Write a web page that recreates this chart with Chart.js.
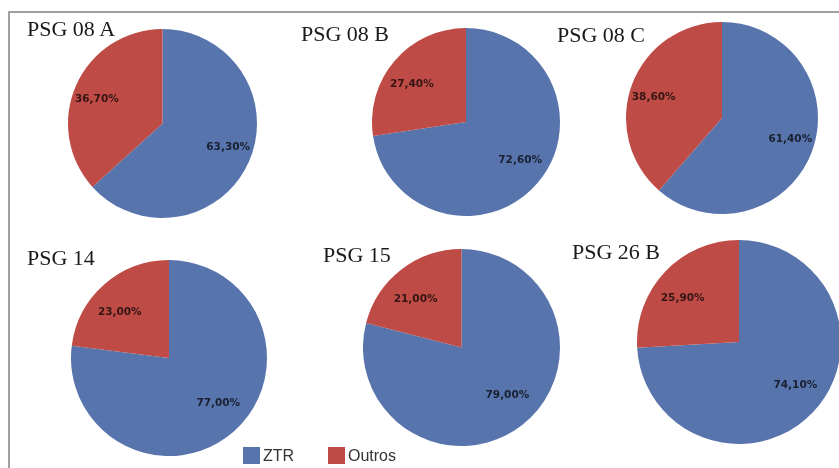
<!DOCTYPE html>
<html>
<head>
<meta charset="utf-8">
<script src="https://cdn.jsdelivr.net/npm/chart.js@4"></script>
<style>
  html, body { margin:0; padding:0; background:#fff; }
  #stage { position:relative; width:839px; height:468px; overflow:hidden; background:#fff; }
  .frame { position:absolute; left:8px; top:11px; width:900px; height:500px; border-top:2px solid #a0a0a0; border-left:2px solid #a0a0a0; box-sizing:border-box; }
  .pie { position:absolute; }
  .title { position:absolute; font-family:"Liberation Serif", "Times New Roman", serif; font-size:22px; line-height:22px; color:#1a1a1a; white-space:nowrap; }
  .legend { position:absolute; top:447px; font-family:"Liberation Sans", Arial, sans-serif; font-size:16px; line-height:17px; color:#333; white-space:nowrap; }
  .legend i { display:inline-block; width:17px; height:17px; vertical-align:top; margin-right:3px; }
</style>
</head>
<body>
<div id="stage">
  <div class="frame"></div>
</div>
<script>
// ── data ─────────────────────────────────────────
const panels = ['PSG 08 A', 'PSG 08 B', 'PSG 08 C', 'PSG 14', 'PSG 15', 'PSG 26 B'];
const seriesNames = ['ZTR', 'Outros'];
const ztr = [63.3, 72.6, 61.4, 77.0, 79.0, 74.1];
const outros = [36.7, 27.4, 38.6, 23.0, 21.0, 25.9];

const colors = ['#5874ad', '#be4b45'];

// layout: pie box (left, top, size) and title position (left, top)
const layout = [
  { left: 68,    top: 29,  size: 189, tx: 27,  ty: 17.6 },
  { left: 372,   top: 28,  size: 188, tx: 301, ty: 22.6 },
  { left: 625.5, top: 22,  size: 192, tx: 557, ty: 23.6 },
  { left: 71,    top: 260, size: 196, tx: 27,  ty: 247 },
  { left: 363,   top: 249, size: 197, tx: 323, ty: 243.6 },
  { left: 637,   top: 240, size: 204, tx: 572, ty: 240.6 }
];

const fmtPct = v => v.toFixed(2).replace('.', ',') + '%';

// labels inside slices, placed along the mid angle
const sliceLabels = {
  id: 'sliceLabels',
  afterDatasetsDraw(chart) {
    const ctx = chart.ctx;
    const values = chart.data.datasets[0].data;
    ctx.save();
    ctx.font = 'bold 10.5px "DejaVu Sans", sans-serif';
    ctx.fillStyle = 'rgba(0,0,0,0.72)';
    ctx.textAlign = 'center';
    ctx.textBaseline = 'middle';
    chart.getDatasetMeta(0).data.forEach((arc, i) => {
      const p = arc.getProps(['x', 'y', 'startAngle', 'endAngle', 'outerRadius'], true);
      const mid = (p.startAngle + p.endAngle) / 2;
      const lx = p.x + Math.cos(mid) * p.outerRadius * 0.76;
      const ly = p.y + Math.sin(mid) * p.outerRadius * 0.62;
      ctx.fillText(fmtPct(values[i]), lx, ly);
    });
    ctx.restore();
  }
};

const stage = document.getElementById('stage');

panels.forEach((name, i) => {
  const L = layout[i];

  const box = document.createElement('div');
  box.className = 'pie';
  box.style.left = L.left + 'px';
  box.style.top = L.top + 'px';
  box.style.width = L.size + 'px';
  box.style.height = L.size + 'px';
  const canvas = document.createElement('canvas');
  box.appendChild(canvas);
  stage.appendChild(box);

  const title = document.createElement('div');
  title.className = 'title';
  title.style.left = L.tx + 'px';
  title.style.top = L.ty + 'px';
  title.textContent = name;
  stage.appendChild(title);

  new Chart(canvas, {
    type: 'pie',
    data: {
      labels: seriesNames,
      datasets: [{ data: [ztr[i], outros[i]], backgroundColor: colors, borderWidth: 0 }]
    },
    options: {
      responsive: true,
      maintainAspectRatio: false,
      animation: false,
      events: [],
      layout: { padding: 0 },
      plugins: { legend: { display: false }, tooltip: { enabled: false } }
    },
    plugins: [sliceLabels]
  });
});

// shared legend
const legendPos = [243, 328];
seriesNames.forEach((s, i) => {
  const el = document.createElement('div');
  el.className = 'legend';
  el.style.left = legendPos[i] + 'px';
  el.innerHTML = `<i style="background:${colors[i]}"></i>${s}`;
  stage.appendChild(el);
});
</script>
</body>
</html>
